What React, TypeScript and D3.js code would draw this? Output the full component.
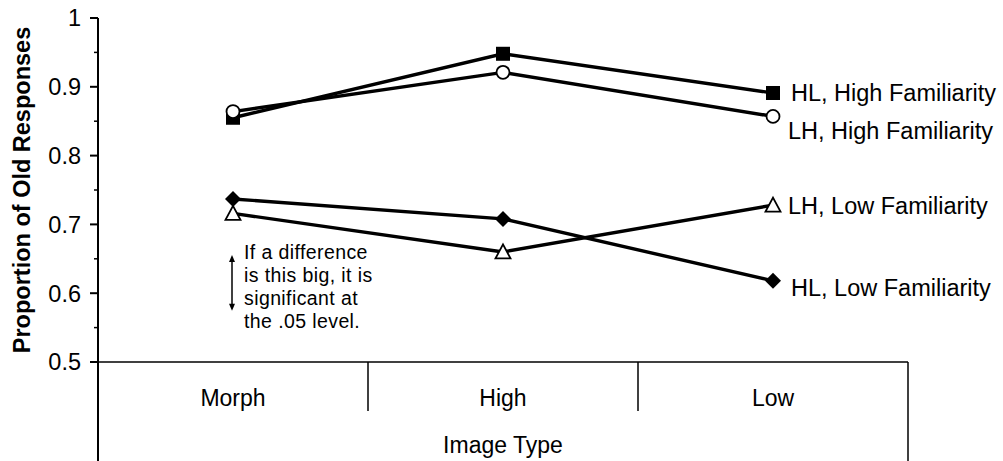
import React from "react";
import * as d3 from "d3";

const categories = ["Morph", "High", "Low"];
const hlHigh = [0.855, 0.948, 0.891];
const lhHigh = [0.864, 0.921, 0.857];
const hlLow = [0.737, 0.708, 0.618];
const lhLow = [0.716, 0.660, 0.728];
const seriesNames = ["HL, High Familiarity", "LH, High Familiarity", "LH, Low Familiarity", "HL, Low Familiarity"];
const yTicks = [0.5, 0.6, 0.7, 0.8, 0.9, 1];
const yMinorTicks = [0.55, 0.65, 0.75, 0.85, 0.95];
const noteLines = ["If a difference", "is this big, it is", "significant at", "the .05 level."];
const sigDiff = 0.081;

const W = 1003, H = 461;
const FONT = "'Liberation Sans', Arial, sans-serif";

export default function App() {
  const x = d3.scaleBand<string>().domain(categories).range([98, 908]);
  const y = d3.scaleLinear().domain([0.5, 1]).range([362, 18]);
  const cx = (c: string) => (x(c) as number) + x.bandwidth() / 2;
  const line = d3.line<number>().x((_, i) => cx(categories[i])).y((v) => y(v));

  const series = [
    { name: seriesNames[0], data: hlHigh, marker: "square", labelDx: 18, labelDy: 8 },
    { name: seriesNames[1], data: lhHigh, marker: "circle", labelDx: 15, labelDy: 23 },
    { name: seriesNames[2], data: lhLow, marker: "triangle", labelDx: 15, labelDy: 9 },
    { name: seriesNames[3], data: hlLow, marker: "diamond", labelDx: 18, labelDy: 15 },
  ];

  const marker = (type: string, px: number, py: number, key: string) => {
    if (type === "square")
      return <rect key={key} x={px - 7} y={py - 7} width={14} height={14} fill="#000" />;
    if (type === "circle")
      return <circle key={key} cx={px} cy={py} r={6.5} fill="#fff" stroke="#000" strokeWidth={1.8} />;
    if (type === "triangle")
      return (
        <path key={key} d={`M${px},${py - 7.5}L${px + 7.5},${py + 6.5}L${px - 7.5},${py + 6.5}Z`} fill="#fff" stroke="#000" strokeWidth={1.8} />
      );
    return <path key={key} d={`M${px},${py - 8}L${px + 8},${py}L${px},${py + 8}L${px - 8},${py}Z`} fill="#000" />;
  };

  const lastCat = categories[categories.length - 1];
  const arrowX = cx(categories[0]) - 1;
  const arrowTop = y(0.66) + 3;
  const arrowBot = arrowTop + (y(0.5) - y(0.5 + sigDiff));

  return (
    <svg width={W} height={H} style={{ position: "absolute", left: 0, top: 0, background: "#fff" }} fontFamily={FONT}>
      <rect x={0} y={0} width={W} height={H} fill="#fff" />
      {/* y axis */}
      <line x1={98} x2={98} y1={18} y2={461} stroke="#000" strokeWidth={2} />
      {yTicks.map((t) => (
        <g key={"t" + t}>
          <line x1={90} x2={98} y1={y(t)} y2={y(t)} stroke="#000" strokeWidth={2} />
          <text x={81} y={y(t)} dy="0.36em" textAnchor="end" fontSize={23.5} fill="#000">
            {t === 1 ? "1" : t.toFixed(1)}
          </text>
        </g>
      ))}
      {yMinorTicks.map((t) => (
        <line key={"m" + t} x1={94} x2={98} y1={y(t)} y2={y(t)} stroke="#000" strokeWidth={1.5} />
      ))}
      <text transform={`translate(30,${(y(0.5) + y(1)) / 2}) rotate(-90)`} textAnchor="middle" fontSize={23.5} fontWeight="bold" fill="#000">
        Proportion of Old Responses
      </text>

      {/* category box */}
      <line x1={98} x2={908} y1={362} y2={362} stroke="#000" strokeWidth={1.5} />
      <line x1={908} x2={908} y1={362} y2={461} stroke="#000" strokeWidth={1.5} />
      {categories.slice(1).map((c) => (
        <line key={"s" + c} x1={x(c) as number} x2={x(c) as number} y1={362} y2={411} stroke="#000" strokeWidth={1.5} />
      ))}
      {categories.map((c) => (
        <text key={"c" + c} x={cx(c)} y={406} textAnchor="middle" fontSize={23} fill="#000">
          {c}
        </text>
      ))}
      <text x={503} y={453} textAnchor="middle" fontSize={23} fill="#000">
        Image Type
      </text>

      {/* lines */}
      {series.map((s) => (
        <path key={"l" + s.name} d={line(s.data) || ""} fill="none" stroke="#000" strokeWidth={3.4} />
      ))}
      {series.map((s) => s.data.map((v, i) => marker(s.marker, cx(categories[i]), y(v), s.name + i)))}
      {series.map((s) => (
        <text key={"lab" + s.name} x={cx(lastCat) + s.labelDx} y={y(s.data[2]) + s.labelDy} fontSize={23.5} fill="#000">
          {s.name}
        </text>
      ))}

      {/* significance arrow */}
      <line x1={arrowX} x2={arrowX} y1={arrowTop + 4} y2={arrowBot - 4} stroke="#000" strokeWidth={1.5} />
      <path d={`M${arrowX},${arrowTop}L${arrowX + 3},${arrowTop + 7}L${arrowX - 3},${arrowTop + 7}Z`} fill="#000" />
      <path d={`M${arrowX},${arrowBot}L${arrowX + 3},${arrowBot - 7}L${arrowX - 3},${arrowBot - 7}Z`} fill="#000" />
      {noteLines.map((t, i) => (
        <text key={"n" + i} x={244} y={259 + i * 23} fontSize={19.5} letterSpacing={0.4} fill="#000">
          {t}
        </text>
      ))}
    </svg>
  );
}
